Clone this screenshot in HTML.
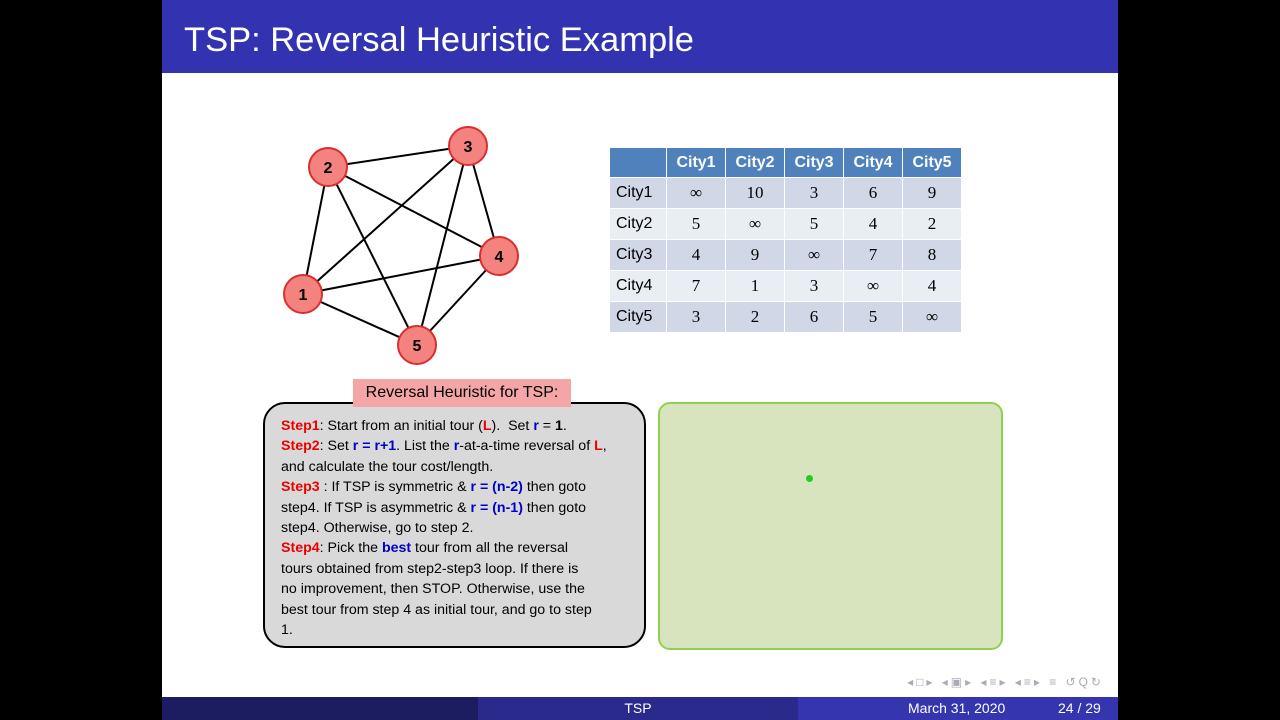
<!DOCTYPE html>
<html><head><style>
body{margin:0;width:1280px;height:720px;background:#000;position:relative;overflow:hidden;font-family:"Liberation Sans",sans-serif}
#slide{position:absolute;left:162px;top:0;width:956px;height:720px;background:#fff}
#title{position:absolute;left:0;top:0;width:956px;height:73px;background:#3333b2;color:#fff;font-size:34.5px;line-height:80px;padding-left:22px;box-sizing:border-box}
table{position:absolute;left:447px;top:147px;table-layout:fixed;border-collapse:collapse;font-family:"Liberation Serif",serif;font-size:17px}
td{height:30px;text-align:center;border:1px solid #fff;padding:0}
th{height:29px;background:#4f81bd;color:#fff;font-family:"Liberation Sans",sans-serif;font-size:16px;border:1px solid #fff;padding:0}
tr.ra td{background:#d0d8e8}tr.rb td{background:#e9edf4}
td.l{font-family:"Liberation Sans",sans-serif;font-size:16px;text-align:left;padding-left:6px}
#hdr{position:absolute;left:191px;top:379px;width:218px;height:28px;background:#f4a6a6;font-size:16px;text-align:center;line-height:28px;z-index:2}
#box{position:absolute;left:101px;top:402px;width:383px;height:246px;background:#d9d9d9;border:2px solid #000;border-radius:22px;box-sizing:border-box;padding:12px 0 0 16px;font-size:14.2px;line-height:20.4px}
.r{color:#e00;font-weight:bold}.bl{color:#0000cc;font-weight:bold}
#green{position:absolute;left:496px;top:402px;width:345px;height:248px;background:#d7e4bd;border:2px solid #8fd14f;border-radius:12px;box-sizing:border-box}
#foot{position:absolute;left:0;top:697px;width:956px;height:23px;color:#fff;font-size:14px;line-height:23px}
</style></head><body>
<div id="slide">
<div id="title">TSP: Reversal Heuristic Example</div>
<svg width="956" height="400" style="position:absolute;left:0;top:0">
<g stroke="#000" stroke-width="2">
<line x1="166" y1="167" x2="306" y2="146"/><line x1="166" y1="167" x2="141" y2="294"/><line x1="166" y1="167" x2="337" y2="256"/><line x1="166" y1="167" x2="255" y2="345"/>
<line x1="306" y1="146" x2="141" y2="294"/><line x1="306" y1="146" x2="337" y2="256"/><line x1="306" y1="146" x2="255" y2="345"/>
<line x1="141" y1="294" x2="337" y2="256"/><line x1="141" y1="294" x2="255" y2="345"/><line x1="337" y1="256" x2="255" y2="345"/>
</g>
<g fill="#f4837f" stroke="#d83030" stroke-width="2">
<circle cx="166" cy="167" r="19"/><circle cx="306" cy="146" r="19"/><circle cx="337" cy="256" r="19"/><circle cx="141" cy="294" r="19"/><circle cx="255" cy="345" r="19"/>
</g>
<g font-family="Liberation Sans" font-weight="bold" font-size="16" text-anchor="middle">
<text x="166" y="173">2</text><text x="306" y="152">3</text><text x="337" y="262">4</text><text x="141" y="300">1</text><text x="255" y="351">5</text>
</g>
</svg>
<table>
<tr><th style="width:56px"></th><th style="width:58px">City1</th><th style="width:58px">City2</th><th style="width:58px">City3</th><th style="width:58px">City4</th><th style="width:58px">City5</th></tr>
<tr class="ra"><td class="l">City1</td><td>∞</td><td>10</td><td>3</td><td>6</td><td>9</td></tr>
<tr class="rb"><td class="l">City2</td><td>5</td><td>∞</td><td>5</td><td>4</td><td>2</td></tr>
<tr class="ra"><td class="l">City3</td><td>4</td><td>9</td><td>∞</td><td>7</td><td>8</td></tr>
<tr class="rb"><td class="l">City4</td><td>7</td><td>1</td><td>3</td><td>∞</td><td>4</td></tr>
<tr class="ra"><td class="l">City5</td><td>3</td><td>2</td><td>6</td><td>5</td><td>∞</td></tr>
</table>
<div id="hdr">Reversal Heuristic for TSP:</div>
<div id="box"><span class="r">Step1</span>: Start from an initial tour (<span class="r">L</span>).&nbsp; Set <span class="bl">r</span> = <b>1</b>.<br>
<span class="r">Step2</span>: Set <span class="bl">r = r+1</span>. List the <span class="bl">r</span>-at-a-time reversal of <span class="r">L</span>,<br>and calculate the tour cost/length.<br>
<span class="r">Step3</span> : If TSP is symmetric &amp; <span class="bl">r = (n-2)</span> then goto<br>step4. If TSP is asymmetric &amp; <span class="bl">r = (n-1)</span> then goto<br>step4. Otherwise, go to step 2.<br>
<span class="r">Step4</span>: Pick the <span class="bl">best</span> tour from all the reversal<br>tours obtained from step2-step3 loop. If there is<br>no improvement, then STOP. Otherwise, use the<br>best tour from step 4 as initial tour, and go to step<br>1.</div>
<div id="green"><div style="position:absolute;left:146px;top:71px;width:7px;height:7px;border-radius:50%;background:#2c2"></div></div>
<div style="position:absolute;right:14px;top:675px;color:#aab;font-size:12px;letter-spacing:3px">◂□▸ ◂▣▸ ◂≡▸ ◂≡▸ ≡ ↺Q↻</div>
<div id="foot">
<div style="position:absolute;left:0;width:316px;height:23px;background:#1c1c60"></div>
<div style="position:absolute;left:316px;width:320px;height:23px;background:#2a2a8c;text-align:center">TSP</div>
<div style="position:absolute;left:636px;width:320px;height:23px;background:#3535b0"><span style="position:absolute;left:110px">March 31, 2020</span><span style="position:absolute;left:260px">24 / 29</span></div>
</div>
</div>
</body></html>
